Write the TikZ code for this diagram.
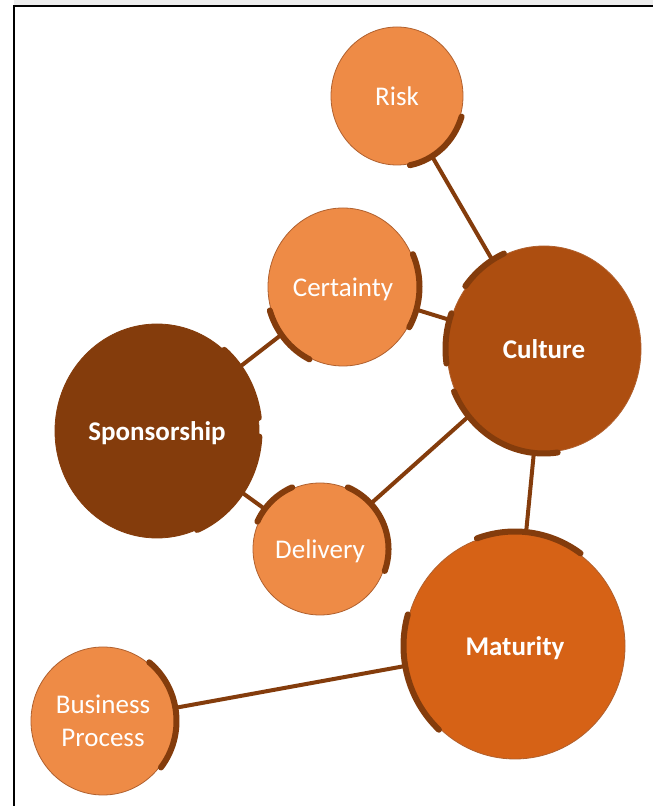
\documentclass[tikz,border=0pt]{standalone}
\usepackage{fontspec}
\setmainfont{Carlito}
\usetikzlibrary{shapes.geometric}

\definecolor{lightorange}{RGB}{238,139,70}
\definecolor{cultureorange}{RGB}{173,78,16}
\definecolor{darkbrown}{RGB}{132,60,12}
\definecolor{maturityorange}{RGB}{214,98,22}
\definecolor{edgeorange}{RGB}{176,96,46}
\definecolor{linkbrown}{RGB}{132,60,12}

% thick rim segment hugging a bubble where a link meets it
\newcommand\rimarc[5]{%
  \draw[rim] ([shift={(#2:#4pt and #5pt)}]#1.center)
    arc[start angle=#2, end angle=#3, x radius=#4pt, y radius=#5pt];}

\begin{document}
\begin{tikzpicture}[x=1pt,y=1pt,
  bub/.style={ellipse, draw=edgeorange, line width=0.8pt, inner sep=0pt,
    text=white, align=center, font=\fontsize{27}{33}\selectfont},
  oneline/.style={text height=22pt, text depth=2pt},
  light/.style={bub, fill=lightorange},
  link/.style={draw=linkbrown, line width=4pt},
  rim/.style={draw=linkbrown, line width=6pt, line cap=round}]

  \useasboundingbox (0,0) rectangle (653,806);
  \fill[white] (0,0) rectangle (653,806);
  \fill[black!7] (14,801) rectangle (653,806);
  \draw[black, line width=2pt] (14,0) -- (14,800) -- (653,800);

  % bubbles
  \node[light, oneline, minimum width=132pt, minimum height=138pt] (risk) at (397,710) {Risk};
  \node[light, oneline, minimum width=150pt, minimum height=158pt] (cert) at (343,519) {Certainty};
  \node[bub, oneline, fill=cultureorange, minimum width=194pt, minimum height=206pt] (cult) at (544,457) {\bfseries Culture};
  \node[bub, oneline, fill=darkbrown, draw=darkbrown, minimum width=204pt, minimum height=214pt] (spon) at (157,375) {\bfseries Sponsorship};
  \node[light, oneline, minimum width=134pt, minimum height=132pt] (deli) at (320,257) {Delivery};
  \node[bub, oneline, fill=maturityorange, minimum width=220pt, minimum height=226pt] (matu) at (515,160) {\bfseries Maturity};
  \node[light, minimum width=144pt, minimum height=148pt] (busi) at (103,85) {Business\\Process};

  % links between bubbles
  \draw[link] (risk) -- (cult);
  \draw[link] (cert) -- (cult);
  \draw[link] (cert) -- (spon);
  \draw[link] (spon) -- (deli);
  \draw[link] (deli) -- (cult);
  \draw[link] (cult) -- (matu);
  \draw[link] (matu) -- (busi);

  % rim segments
  \rimarc{risk}{-79}{-17}{67.5}{70.5}
  \rimarc{cert}{-30}{24}{76.5}{80.5}
  \rimarc{cert}{197}{244}{76.5}{80.5}
  \rimarc{cult}{114}{143}{98.5}{104.5}
  \rimarc{cult}{160}{188}{98.5}{104.5}
  \rimarc{cult}{204}{278}{98.5}{104.5}
  \rimarc{spon}{7}{49}{102.5}{107.5}
  \rimarc{spon}{-67}{-3}{102.5}{107.5}
  \rimarc{deli}{114}{156}{68.5}{67.5}
  \rimarc{deli}{-19}{66}{68.5}{67.5}
  \rimarc{matu}{54}{110}{111.5}{114.5}
  \rimarc{matu}{164}{227}{111.5}{114.5}
  \rimarc{busi}{-38}{51}{73.5}{75.5}
\end{tikzpicture}
\end{document}
